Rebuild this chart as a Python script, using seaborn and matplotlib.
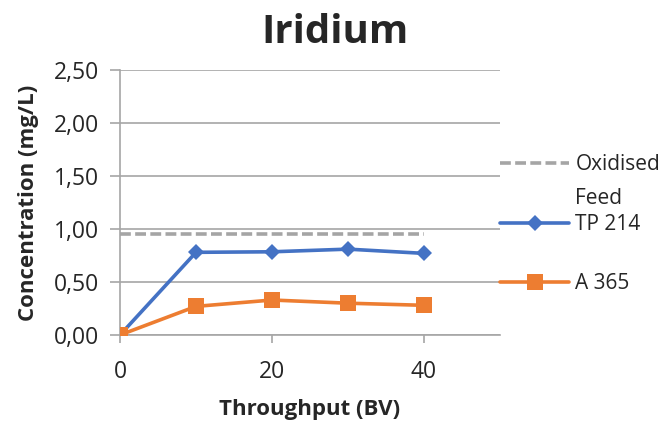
import matplotlib
matplotlib.use("Agg")
import matplotlib.pyplot as plt
import seaborn as sns
import pandas as pd
from matplotlib.lines import Line2D

throughput = [0, 10, 20, 30, 40]
tp214 = [0.0, 0.78, 0.785, 0.81, 0.77]
a365 = [0.0, 0.27, 0.33, 0.30, 0.28]
feed_x = [0, 40]
feed = [0.95, 0.95]
yticks = [0.0, 0.5, 1.0, 1.5, 2.0, 2.5]
ytick_labels = ["0,00", "0,50", "1,00", "1,50", "2,00", "2,50"]
xticks = [0, 20, 40]

sns.set_style("white")
plt.rcParams['font.family'] = ['Open Sans', 'DejaVu Sans']

fig = plt.figure(figsize=(6.68, 4.22), dpi=100)
ax = fig.add_axes([120/668, 1 - 335/422, 380/668, 265/422])

df = pd.DataFrame({
    "x": throughput * 2,
    "y": tp214 + a365,
    "s": ["TP 214"] * 5 + ["A 365"] * 5,
})
feed_df = pd.DataFrame({"x": feed_x, "y": feed})

dash = (0, (3.0, 1.2))
sns.lineplot(data=feed_df, x="x", y="y", ax=ax, color="#A5A5A5", lw=2.6,
             linestyle=dash, zorder=3)
sns.lineplot(data=df[df.s == "TP 214"], x="x", y="y", ax=ax, color="#4472C4",
             lw=2.6, marker="D", markersize=8, markeredgewidth=0, zorder=4)
sns.lineplot(data=df[df.s == "A 365"], x="x", y="y", ax=ax, color="#ED7D31",
             lw=2.6, marker="s", markersize=11, markeredgewidth=0, zorder=5)

ax.set_xlim(0, 50)
ax.set_ylim(0, 2.5)
ax.set_yticks(yticks)
ax.set_yticklabels(ytick_labels)
ax.set_xticks(xticks)
ax.yaxis.grid(True, color="#A6A6A6", lw=1.2)
ax.set_axisbelow(True)
for s in ["top", "right"]:
    ax.spines[s].set_visible(False)
for s in ["left", "bottom"]:
    ax.spines[s].set_color("#A6A6A6")
    ax.spines[s].set_linewidth(1.2)
ax.tick_params(axis="y", length=7, width=1.2, color="#A6A6A6", labelsize=16.5, pad=8, direction="out")
ax.tick_params(axis="x", length=6, width=1.2, color="#A6A6A6", labelsize=16.5, pad=12, direction="out")
ax.tick_params(left=True, bottom=True)
ax.set_xlabel("Throughput (BV)", fontsize=16, fontweight="bold", labelpad=10.5)
ax.set_ylabel("Concentration (mg/L)", fontsize=16, fontweight="bold", labelpad=11)
fig.suptitle("Iridium", x=335/668, y=1 - 13/422, fontsize=29, fontweight="bold", va="top")

handles = [
    Line2D([], [], color="#A5A5A5", lw=2.6, linestyle=dash),
    Line2D([], [], color="#4472C4", lw=2.6, marker="D", markersize=8, markeredgewidth=0),
    Line2D([], [], color="#ED7D31", lw=2.6, marker="s", markersize=11, markeredgewidth=0),
]
labels = ["Oxidised", "TP 214", "A 365"]
leg = fig.legend(handles, labels, loc="upper left", bbox_to_anchor=(492/668, 1 - 146/422),
                 frameon=False, fontsize=15, handlelength=3.3, handletextpad=0.3,
                 labelspacing=1.85, borderaxespad=0)
fig.text(575/668, 1 - 198/422, "Feed", fontsize=15, va="center", ha="left")

fig.savefig("out.png", dpi=100)
